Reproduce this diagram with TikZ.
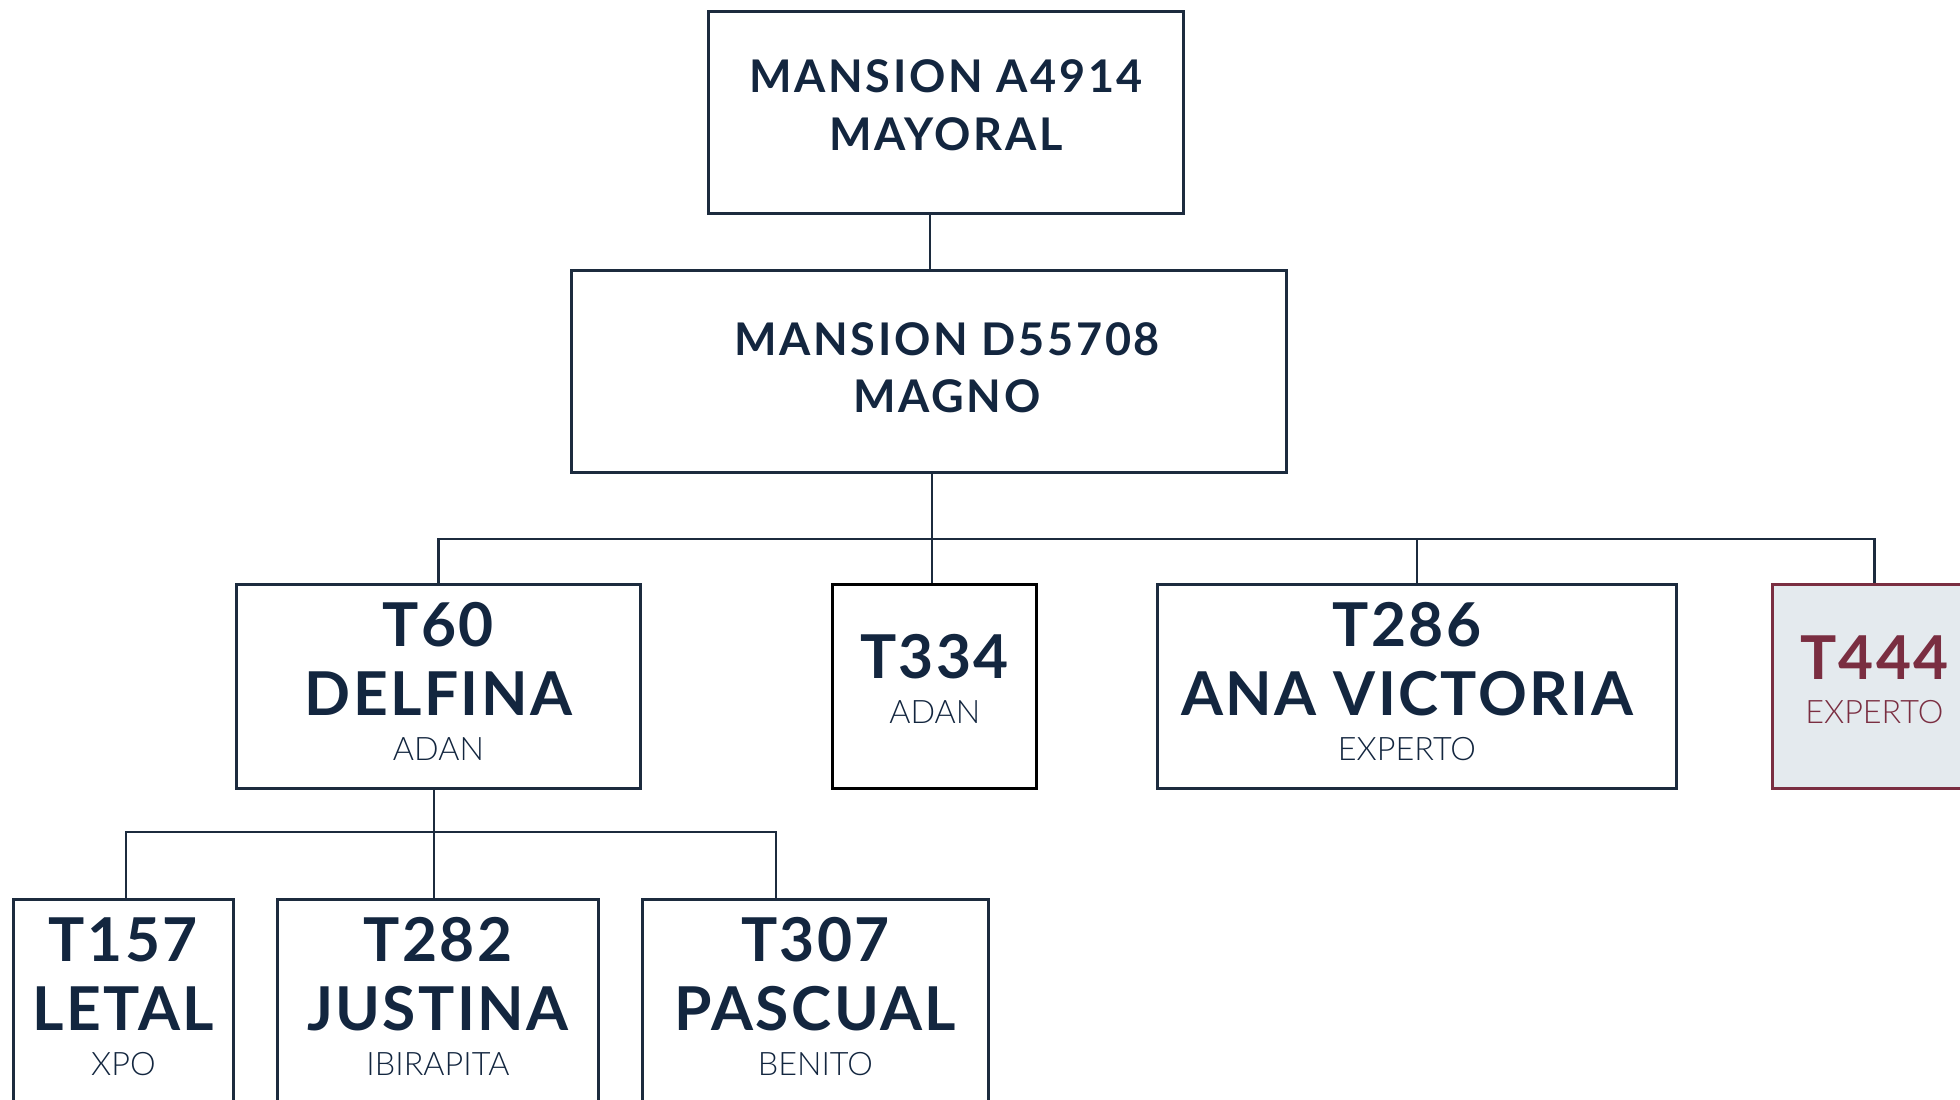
\documentclass[tikz,border=0pt]{standalone}
\usepackage{fontspec}
\usetikzlibrary{calc}
\setmainfont{Lato}
\newfontfamily\headfont{Lato}[LetterSpace=4]
\newfontfamily\wideheadfont{Lato}[LetterSpace=6]
\newfontfamily\subfont{Lato Light}

\definecolor{navy}{HTML}{13263F}
\definecolor{navyline}{HTML}{1C2B3E}
\definecolor{wine}{HTML}{7A2E41}
\definecolor{mist}{HTML}{E4EAEE}

\tikzset{
    card/.style={rectangle, draw=navyline, line width=0.75pt, fill=white, inner sep=0pt, anchor=north west},
    keycard/.style={card, draw=black, line width=0.95pt},
    hicard/.style={card, draw=wine, fill=mist},
    link/.style={draw=navyline, line width=0.75pt},
    bigtxt/.style={anchor=base, text=navy, inner sep=0pt, font=\headfont\bfseries\fontsize{17.2}{20}\selectfont},
    toptxt/.style={anchor=base, text=navy, inner sep=0pt, font=\wideheadfont\bfseries\fontsize{12.8}{15}\selectfont},
    subtxt/.style={anchor=base, text=navy, inner sep=0pt, font=\subfont\fontsize{9.2}{11}\selectfont},
}

% three lines in a card: number, name, rank
\newcommand{\cardlines}[4]{
    \node[bigtxt] (#1-num) at ($(#1.north)+(0,63)$) {#2};
    \node[bigtxt] (#1-name) at ($(#1.north)+(0,132)$) {#3};
    \node[subtxt] (#1-rank) at ($(#1.north)+(0,177)$) {#4};
}

\begin{document}
\begin{tikzpicture}[x=0.01cm, y=-0.01cm]
    \useasboundingbox (0,0) rectangle (1960,1099);
    \clip (0,0) rectangle (1960,1099);

    % Top of the tree
    \node[card, minimum width=4.75cm, minimum height=2.02cm] (mayoral) at (707,10) {};
    \node[toptxt] (mayoral-a) at (946,92) {MANSION A4914};
    \node[toptxt] (mayoral-b) at (946,150) {MAYORAL};

    \node[card, minimum width=7.15cm, minimum height=2.02cm] (magno) at (570,269) {};
    \node[toptxt] (magno-a) at (947,355) {MANSION D55708};
    \node[toptxt] (magno-b) at (947,412) {MAGNO};

    % Second row
    \node[card, minimum width=4.04cm, minimum height=2.04cm] (delfina) at (235,583) {};
    \cardlines{delfina}{T60}{DELFINA}{ADAN}

    \node[keycard, minimum width=2.04cm, minimum height=2.04cm] (t334) at (831,583) {};
    \node[bigtxt] (t334-num) at ($(t334.north)+(0,95)$) {T334};
    \node[subtxt] (t334-rank) at ($(t334.north)+(0,140)$) {ADAN};

    \node[card, minimum width=5.19cm, minimum height=2.04cm] (anavictoria) at (1156,583) {};
    \node[bigtxt] (anavictoria-num) at (1407,646) {T286};
    \node[bigtxt] (anavictoria-name) at (1407,715) {ANA VICTORIA};
    \node[subtxt] (anavictoria-rank) at (1407,760) {EXPERTO};

    \node[hicard, minimum width=2.04cm, minimum height=2.04cm] (t444) at (1771,583) {};
    \node[bigtxt, text=wine] (t444-num) at ($(t444.north)+(0,96)$) {T444};
    \node[subtxt, text=wine] (t444-rank) at ($(t444.north)+(0,140)$) {EXPERTO};

    % Third row
    \node[card, minimum width=2.20cm, minimum height=2.60cm] (letal) at (12,898) {};
    \cardlines{letal}{T157}{LETAL}{XPO}

    \node[card, minimum width=3.21cm, minimum height=2.60cm] (justina) at (276,898) {};
    \cardlines{justina}{T282}{JUSTINA}{IBIRAPITA}

    \node[card, minimum width=3.46cm, minimum height=2.60cm] (pascual) at (641,898) {};
    \cardlines{pascual}{T307}{PASCUAL}{BENITO}

    % Connectors
    \coordinate (trunk) at (930,240);
    \coordinate (row2bar) at (932,539);
    \coordinate (row3left) at (126,832);
    \coordinate (row3mid) at (434,832);
    \coordinate (row3bar) at (776,832);

    \draw[link] (mayoral.south -| trunk) -- (magno.north -| trunk);
    \draw[link] (magno.south -| row2bar) -- (row2bar |- t334.north);
    \draw[link] (delfina.north) |- (row2bar) -| (t444.north);
    \draw[link] (anavictoria.north) -- (anavictoria.north |- row2bar);

    \draw[link] (delfina.south -| row3mid) -- (row3mid |- justina.north);
    \draw[link] (row3left |- letal.north) -- (row3left) -- (row3bar) -- (row3bar |- pascual.north);
\end{tikzpicture}
\end{document}
